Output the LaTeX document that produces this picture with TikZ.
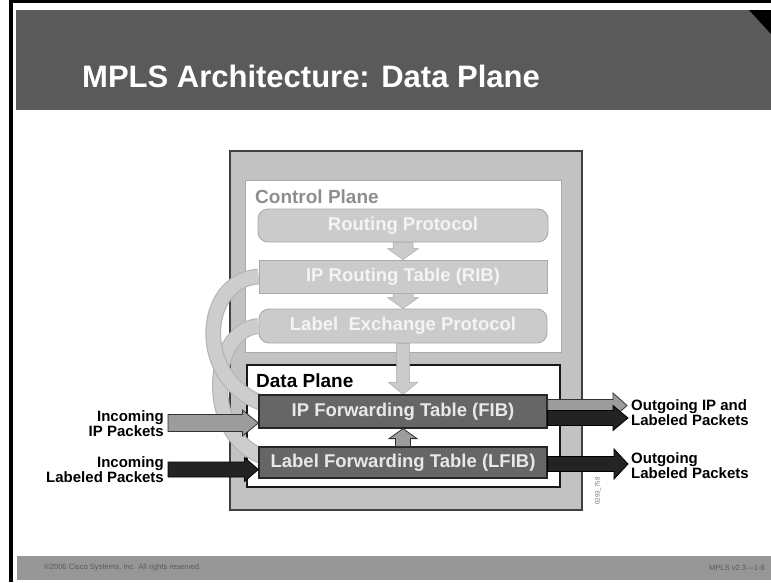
\documentclass[tikz,border=0pt]{standalone}
\usepackage{fontspec}
\setmainfont{Liberation Sans}
\usetikzlibrary{calc}
\pgfdeclarelayer{back}
\pgfdeclarelayer{mid}
\pgfsetlayers{back,mid,main}

\definecolor{titlegray}{HTML}{5A5A5A}
\definecolor{footgray}{HTML}{979797}
\definecolor{routerfill}{HTML}{C2C2C2}
\definecolor{cpfill}{HTML}{CBCBCB}
\definecolor{cpedge}{HTML}{A9A9A9}
\definecolor{cptext}{HTML}{F4F4F4}
\definecolor{cplabel}{HTML}{8E8E8E}
\definecolor{fibfill}{HTML}{666666}
\definecolor{fibtext}{HTML}{E8E8E8}
\definecolor{pktgray}{HTML}{9C9C9C}
\definecolor{pktblack}{HTML}{232323}
\definecolor{curvefill}{HTML}{CDCDCD}
\definecolor{curveedge}{HTML}{B2B2B2}

% horizontal block arrow: style, start, tip, half shaft, half head, head length
\newcommand{\hblock}[6]{%
  \path[#1] let \p1=#2, \p2=#3 in
    ({\x1},{\y1+#4}) -- ({\x2-#6},{\y1+#4}) -- ({\x2-#6},{\y1+#5}) -- ({\x2},{\y1})
    -- ({\x2-#6},{\y1-#5}) -- ({\x2-#6},{\y1-#4}) -- ({\x1},{\y1-#4}) -- cycle;}
% vertical block arrow: style, start, tip, half shaft, half head, signed head length
\newcommand{\vblock}[6]{%
  \path[#1] let \p1=#2, \p2=#3, \n1={\y2-(#6)} in
    ({\x1+#4},{\y1}) -- ({\x1+#4},{\n1}) -- ({\x1+#5},{\n1}) -- ({\x1},{\y2})
    -- ({\x1-#5},{\n1}) -- ({\x1-#4},{\n1}) -- ({\x1-#4},{\y1}) -- cycle;}

\tikzset{
  boxfont/.style={font=\fontsize{18.5}{20}\selectfont\bfseries},
  routerbox/.style={draw=black!75, line width=1.4pt, fill=routerfill, inner sep=0pt},
  cpframe/.style={draw=cpedge, line width=0.9pt, fill=white, inner sep=0pt},
  dpframe/.style={draw=black!90, line width=1.2pt, fill=white, inner sep=0pt},
  ctrlbox/.style={boxfont, draw=cpedge, line width=0.9pt, fill=cpfill, text=cptext,
    inner sep=0pt, minimum width=288pt, minimum height=33pt},
  ctrlround/.style={ctrlbox, rounded corners=10pt},
  fwdbox/.style={boxfont, draw=black!85, line width=1.2pt, fill=fibfill, text=fibtext,
    inner sep=0pt, minimum width=288pt, minimum height=32pt},
  cparrow/.style={fill=cpfill, draw=cpedge, line width=0.5pt},
  grayarrow/.style={fill=pktgray, draw=black!80, line width=0.8pt},
  blackarrow/.style={fill=pktblack, draw=black, line width=0.8pt},
  feedcurve/.style={draw=curveedge, line width=1.1pt, double=curvefill, double distance=13.5pt},
  sidelabel/.style={font=\fontsize{15}{15}\selectfont\bfseries, inner sep=0pt},
  footnote/.style={font=\fontsize{7.6}{8}\selectfont, text=black!65, inner sep=0pt}
}

\begin{document}
\begin{tikzpicture}[x=1pt, y=-1pt]
\useasboundingbox (0,0) rectangle (771,582);

\begin{pgfonlayer}{back}
  % slide frame, title bar and footer
  \fill[white] (0,0) rectangle (771,582);
  \fill[black] (9,0) rectangle (13,582);
  \fill[black] (9,0) rectangle (771,2.5);
  \fill[titlegray] (16,10) rectangle (771,110);
  \fill[black] (749,10) -- (771,10) -- (771,34) -- cycle;
  \fill[footgray] (17,556) rectangle (771,580);

  % router and its two planes
  \node[routerbox, minimum width=352pt, minimum height=359pt] (router) at (406,330.5) {};
  \node[cpframe, minimum width=316pt, minimum height=172pt] (cp) at (403,266) {};
  \node[dpframe, minimum width=313pt, minimum height=122pt] (dp) at (403.5,426) {};

  \node[ctrlround, minimum width=290pt] (rp) at (403,225.5) {Routing Protocol};
  \node[ctrlbox] (rib) at (403,276.5) {IP Routing Table (RIB)};
  \node[ctrlround, minimum height=34pt] (lep) at (403,326) {Label\ \ Exchange Protocol};
\end{pgfonlayer}

% title and footer text
\node[anchor=west, font=\fontsize{31}{34}\selectfont\bfseries, text=white, inner sep=0pt]
  (title) at (82,76) {MPLS Architecture: Data Plane};
\node[footnote, anchor=west] (copy) at (44,568) {©2006 Cisco Systems, Inc. All rights reserved.};
\node[footnote, anchor=east] (pageno) at (765,568) {MPLS v2.3—1-8};

% plane captions
\node[anchor=base west, font=\fontsize{19}{20}\selectfont\bfseries, text=cplabel, inner sep=0pt]
  (cplabel) at (255,203) {Control Plane};
\node[anchor=base west, font=\fontsize{19}{20}\selectfont\bfseries, text=black, inner sep=0pt]
  (dplabel) at (256,387) {Data Plane};

% forwarding tables
\node[fwdbox, minimum height=33pt] (fib) at (403,411.5) {IP Forwarding Table (FIB)};
\node[fwdbox, minimum height=31pt] (lfib) at (403,462.5) {Label Forwarding Table (LFIB)};

\begin{pgfonlayer}{mid}
  % control plane flow
  \vblock{cparrow}{(rp.south)}{(rib.north)}{10pt}{15.5pt}{-11pt}
  \vblock{cparrow}{(rib.south)}{(lep.north)}{10pt}{15.5pt}{-11pt}
  \vblock{cparrow}{(lep.south)}{(fib.north)}{6.5pt}{14.5pt}{-12pt}
  % tables feeding the forwarding plane
  \draw[feedcurve] (lep.west) .. controls (208,330) and (203,442) .. (268,458);
  \draw[feedcurve] (rib.west) .. controls (200,280) and (193,384) .. (268,405);
\end{pgfonlayer}

% LFIB to FIB
\vblock{grayarrow}{(lfib.north)}{(fib.south)}{7.5pt}{14pt}{10pt}

% packet arrows
\coordinate (inip) at (168,423);
\coordinate (inlab) at (168,469.5);
\coordinate (outipg) at (627,405.5);
\coordinate (outipb) at (628,418);
\coordinate (outlab) at (628,464);

\hblock{grayarrow}{(inip)}{(fib.west |- inip)}{8.5pt}{13pt}{16pt}
\hblock{blackarrow}{(inlab)}{(lfib.west |- inlab)}{7.5pt}{12pt}{14pt}
\hblock{grayarrow}{(fib.east |- outipg)}{(outipg)}{6pt}{12.5pt}{14pt}
\hblock{blackarrow}{(fib.east |- outipb)}{(outipb)}{7.5pt}{12.5pt}{15pt}
\hblock{blackarrow}{(lfib.east |- outlab)}{(outlab)}{7.5pt}{15pt}{14pt}

% packet captions
\node[sidelabel, anchor=east, align=right] (inipl) at (164,423.5) {Incoming\\IP Packets};
\node[sidelabel, anchor=east, align=right] (inlabl) at (164,469.5) {Incoming\\Labeled Packets};
\node[sidelabel, anchor=west, align=left] (outipl) at (631,413) {Outgoing IP and\\Labeled Packets};
\node[sidelabel, anchor=west, align=left] (outlabl) at (631,465.5) {Outgoing\\Labeled Packets};

% figure tag
\node[font=\fontsize{6.2}{7}\selectfont, text=black!55, rotate=90, inner sep=0pt] (tag) at (598,491) {0293\_758};
\end{tikzpicture}
\end{document}
